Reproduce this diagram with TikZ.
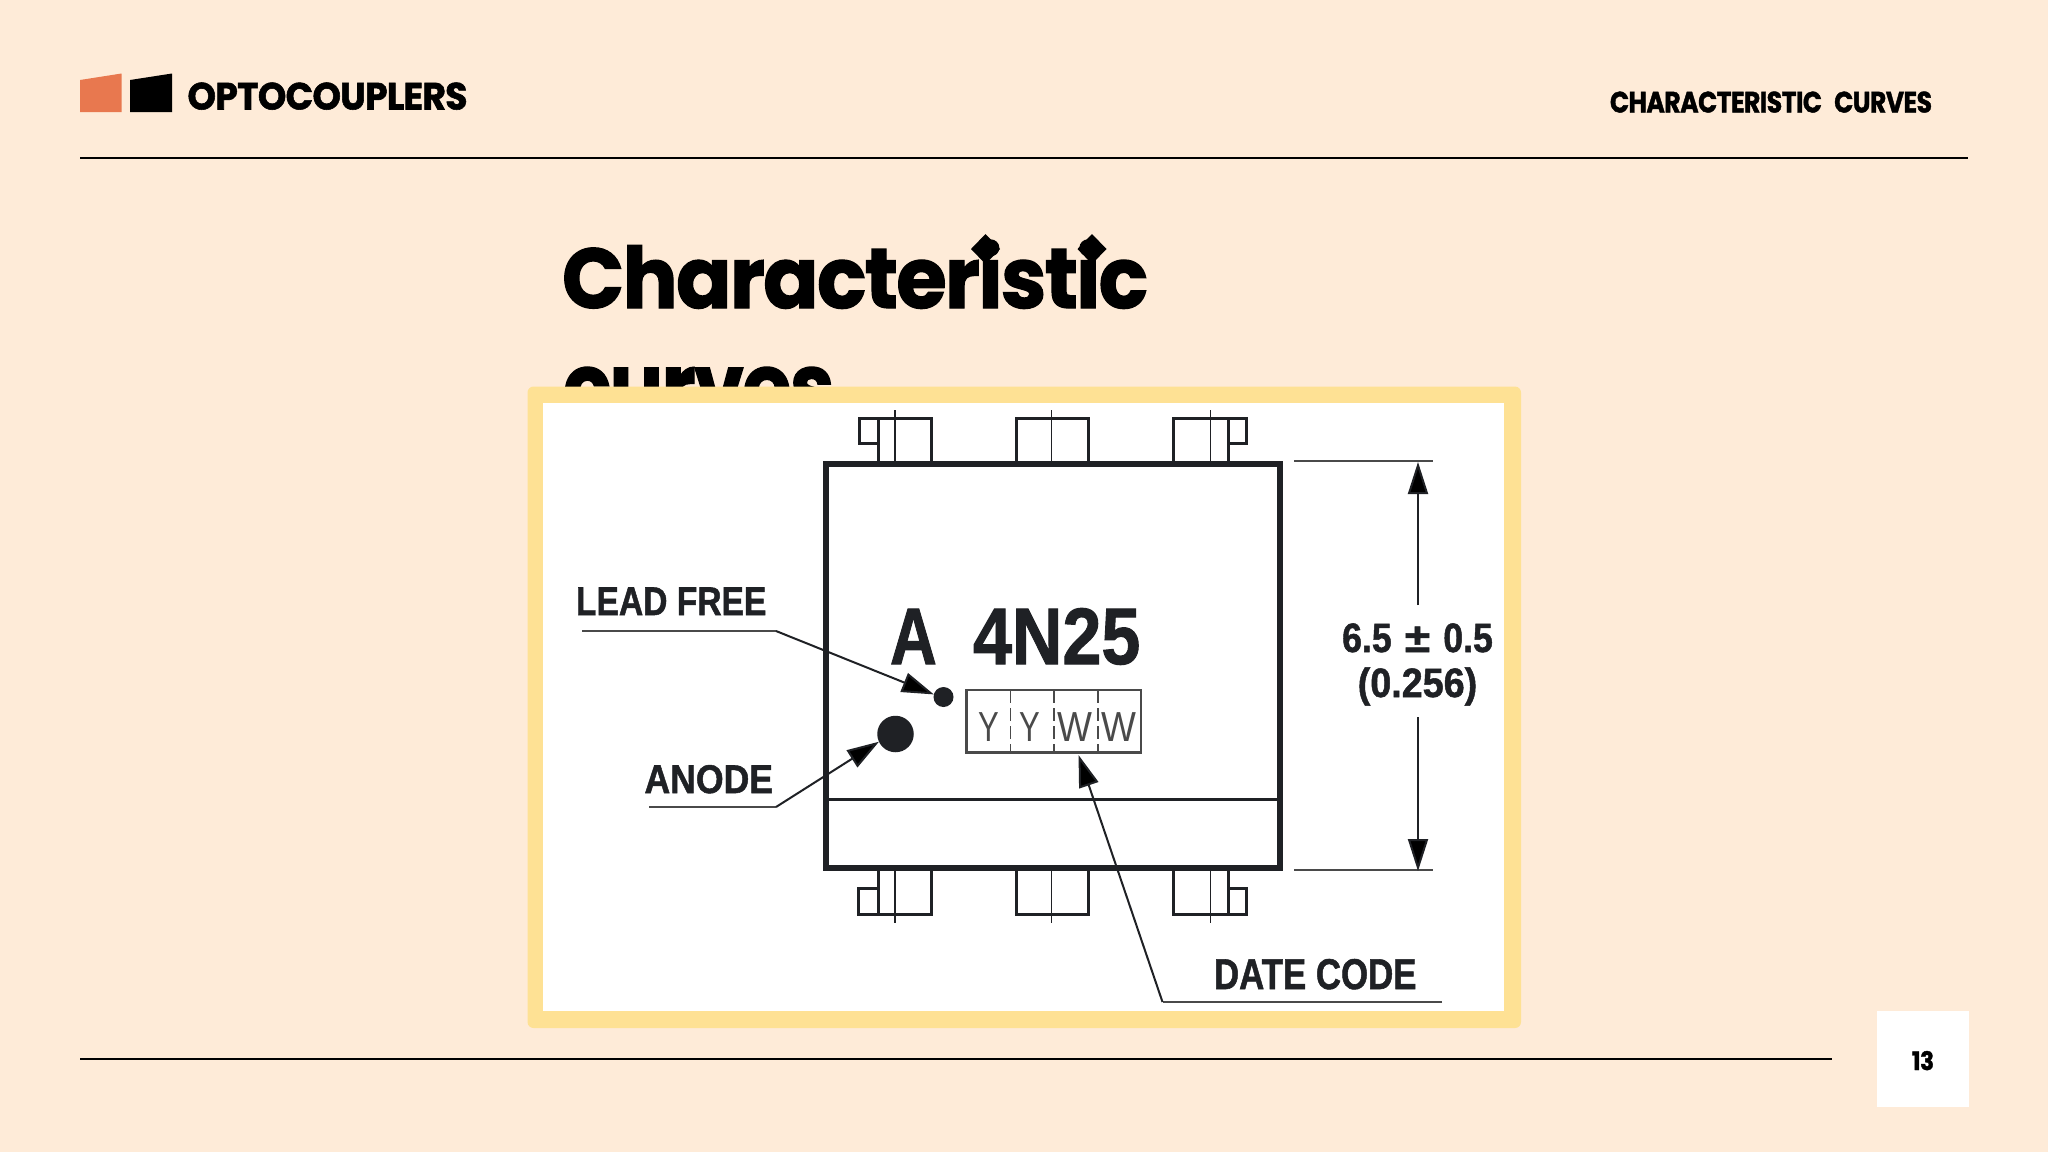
\documentclass[tikz,border=0pt]{standalone}
\usepackage{fontspec}
\usepackage{graphicx}
\usetikzlibrary{arrows.meta}
\setmainfont{Liberation Sans}
\newfontfamily\brandfont{Poppins}[LetterSpace=-2,FakeBold=1.5]
\newfontfamily\labelfont{Liberation Sans}[FakeBold=1.3]
\definecolor{pagebg}{HTML}{FEEBD8}
\definecolor{cardedge}{HTML}{FEE194}
\definecolor{logoorange}{HTML}{E8784F}
\definecolor{ink}{HTML}{1F2125}
\definecolor{thinink}{HTML}{4A4A4A}
\newcommand\fitbox[3]{\resizebox{#1pt}{#2pt}{#3}}
\newcommand\squeeze[2]{\scalebox{#1}[1]{#2}}
\tikzset{
  txt/.style={anchor=base west,inner sep=0pt,outer sep=0pt,text=ink,font=\labelfont\bfseries},
  brand/.style={anchor=base west,inner sep=0pt,outer sep=0pt,text=black,font=\brandfont\bfseries},
  mid/.style={anchor=base,inner sep=0pt,outer sep=0pt,text=ink,font=\labelfont\bfseries},
  date/.style={anchor=base,inner sep=0pt,outer sep=0pt,text=thinink,font=\fontsize{42pt}{42pt}\selectfont},
  rule/.style={draw=black,line width=2.2pt},
  body/.style={draw=ink,line width=6pt,line join=miter},
  pin/.style={draw=ink,line width=3pt},
  axis/.style={draw=ink,line width=1.8pt},
  ext/.style={draw=thinink,line width=2.4pt},
  lead/.style={draw=thinink,line width=2pt},
  tip/.style={-{Triangle[length=32pt,width=20pt,fill=black]},draw=ink,line width=2pt},
  dot/.style={circle,fill=ink,inner sep=0pt,outer sep=0pt},
}
\begin{document}
\begin{tikzpicture}[x=1pt,y=-1pt]
\useasboundingbox (0,0) rectangle (2048,1152);
\fill[pagebg] (0,0) rectangle (2048,1152);
% header
\fill[logoorange] (80,80) -- (121.5,73.5) -- (121.5,112) -- (80,112) -- cycle;
\fill[black] (130,80) -- (172,73.5) -- (172,112) -- (130,112) -- cycle;
\node[brand] (logo) at (187.5,109.5) {\fitbox{280}{27}{OPTOCOUPLERS}};
\node[brand] (section) at (1610,112.5) {\fitbox{322}{21}{CHARACTERISTIC\hspace{3pt} CURVES}};
\draw[rule] (80,158) -- (1968,158);
% title
\node[brand] (title) at (562,308) {\fitbox{586}{68}{Characteristic}};
\node[brand] (title2) at (563,418) {\fitbox{271}{51}{curves}};
\fill[black] (985.5,234) -- (1000,249) -- (985.5,264) -- (971,249) -- cycle;
\fill[black] (1092,234) -- (1106.5,249) -- (1092,264) -- (1077.5,249) -- cycle;
% card
\fill[cardedge,rounded corners=6pt] (527.5,386.5) rectangle (1521,1028);
\fill[white] (543,403) rectangle (1504,1011);
% pins
\foreach \l/\c/\r in {878/895/931,1016/1051.5/1088.5,1173/1210.5/1228}{
  \draw[pin] (\l,464) -- (\l,418) -- (\r,418) -- (\r,464);
  \draw[pin] (\l,868) -- (\l,914) -- (\r,914) -- (\r,868);
  \draw[axis] (\c,410) -- (\c,464);
  \draw[axis] (\c,868) -- (\c,923);
}
\draw[pin] (878,418) -- (859,418) -- (859,443) -- (878,443);
\draw[pin] (878,914) -- (858,914) -- (858,888) -- (878,888);
\draw[pin] (1228,418) -- (1246,418) -- (1246,443) -- (1228,443);
\draw[pin] (1228,914) -- (1246,914) -- (1246,888) -- (1228,888);
% package body
\draw[body] (825.5,464) rectangle (1280,868);
\draw[draw=ink,line width=3pt] (826,799) -- (1280,799);
% marking
\node[txt] (mark) at (890,664) {\fontsize{80pt}{80pt}\selectfont\squeeze{.81}{A}};
\node[txt] (part) at (973,664) {\fontsize{80pt}{80pt}\selectfont\squeeze{.875}{4N25}};
\draw[draw=thinink,line width=2.2pt] (966.5,690) rectangle (1141,752.5);
\foreach \x in {1010.5,1053.7,1097.7}{
  \draw[draw=thinink,line width=1.6pt,dash pattern=on 13pt off 5pt] (\x,690) -- (\x,752.5);
}
\node[date] (y1) at (988.5,741) {\squeeze{.74}{Y}};
\node[date] (y2) at (1030,741) {\squeeze{.74}{Y}};
\node[date] (w1) at (1075,741) {\squeeze{.88}{W}};
\node[date] (w2) at (1119,741) {\squeeze{.88}{W}};
\node[dot,minimum size=20pt] (small) at (943.5,697) {};
\node[dot,minimum size=36.5pt] (anode) at (895.5,734) {};
% labels
\node[txt] (leadfree) at (576,615) {\fontsize{40pt}{40pt}\selectfont\squeeze{.84}{LEAD FREE}};
\node[txt] (anodelabel) at (644.5,793) {\fontsize{40pt}{40pt}\selectfont\squeeze{.89}{ANODE}};
\node[txt] (datecode) at (1214,989) {\fontsize{43pt}{43pt}\selectfont\squeeze{.81}{DATE CODE}};
\node[mid] (dim1) at (1417.5,652) {\fontsize{41pt}{41pt}\selectfont\squeeze{.87}{6.5\hspace{15pt}\scalebox{1.3}[1]{±}\hspace{15pt}0.5}};
\node[mid] (dim2) at (1417.5,697) {\fontsize{41pt}{41pt}\selectfont\squeeze{.92}{(0.256)}};
% connectors
\coordinate (lfa) at (582,631);
\coordinate (lfb) at (776,631);
\coordinate (ana) at (649,807);
\coordinate (anb) at (776,807);
\coordinate (dca) at (1442,1002);
\coordinate (dcb) at (1162.5,1002);
\coordinate (dct) at (1078.5,755);
\draw[lead] (lfa) -- (lfb);
\draw[tip] (lfb) -- (small.165);
\draw[lead] (ana) -- (anb);
\draw[tip] (anb) -- (anode.205);
\draw[lead] (dca) -- (dcb);
\draw[tip] (dcb) -- (dct);
% dimension
\coordinate (e1a) at (1294,461);
\coordinate (e1b) at (1433,461);
\coordinate (e2a) at (1294,870);
\coordinate (e2b) at (1433,870);
\coordinate (d1a) at (1418,605);
\coordinate (d1b) at (1418,462);
\coordinate (d2a) at (1418,717);
\coordinate (d2b) at (1418,871);
\draw[ext,line width=1.6pt] (e1a) -- (e1b);
\draw[ext] (e2a) -- (e2b);
\draw[tip] (d1a) -- (d1b);
\draw[tip] (d2a) -- (d2b);
% footer
\coordinate (fa) at (80,1059);
\coordinate (fb) at (1832,1059);
\draw[rule] (fa) -- (fb);
\fill[white] (1877,1011) rectangle (1969,1107);
\node[brand] (pageno) at (1912,1070) {\fitbox{22}{19}{13}};
\end{tikzpicture}
\end{document}
